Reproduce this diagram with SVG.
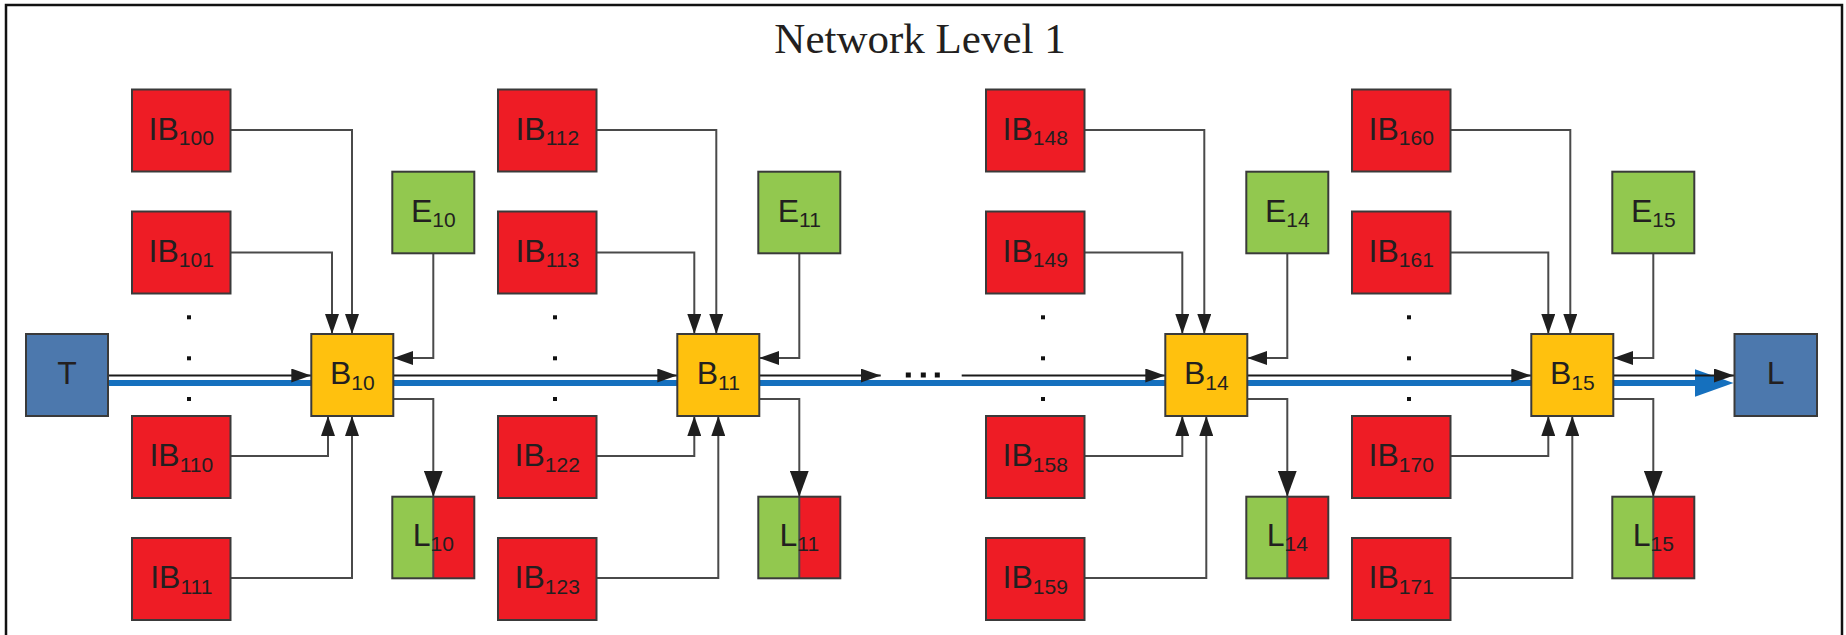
<svg xmlns="http://www.w3.org/2000/svg" width="1846" height="635" viewBox="0 0 1846 635">
<style>
.frame{fill:none;stroke:#111;stroke-width:2.5}
.box{stroke:#3a3a3a;stroke-width:2}
.red{fill:#EE1C25}
.yel{fill:#FFC10E}
.grn{fill:#92C84F}
.blu{fill:#4C78AD}
.lbl{font-family:"Liberation Sans",Arial,sans-serif;font-size:32px;fill:#231F20;text-anchor:middle}
.sub{font-size:21px}
.title{font-family:"Liberation Serif","Times New Roman",serif;font-size:43px;fill:#231F20;text-anchor:middle}
.conn{fill:none;stroke:#4a4a4a;stroke-width:2}
.main{fill:none;stroke:#1a1a1a;stroke-width:2}
.bline{fill:none;stroke:#1570BE;stroke-width:6}
.dot{fill:#111}
</style>
<defs>
<marker id="a" markerUnits="userSpaceOnUse" markerWidth="20" markerHeight="14" refX="20" refY="7" orient="auto"><path d="M0,0 L20,7 L0,14 Z" fill="#1f1f1f"/></marker>
<marker id="ab" markerUnits="userSpaceOnUse" markerWidth="26" markerHeight="19" refX="26" refY="9.5" orient="auto"><path d="M0,0 L26,9.5 L0,19 Z" fill="#1f1f1f"/></marker>
</defs>
<rect class="frame" x="6" y="5" width="1836" height="660"/>
<text class="title" x="920" y="53">Network Level 1</text>

<g id="connectors">
<path class="bline" d="M108,383 H1700"/>
<polygon points="1695,369.3 1733.5,383 1695,396.7" fill="#1570BE"/>
<path class="main" marker-end="url(#a)" d="M108,375.5 H311.3"/>
<path class="main" marker-end="url(#a)" d="M393.3,375.5 H677.3"/>
<path class="main" marker-end="url(#a)" d="M759.3,375.5 H880.7"/>
<path class="main" marker-end="url(#a)" d="M961.7,375.5 H1165.3"/>
<path class="main" marker-end="url(#a)" d="M1247.3,375.5 H1531.3"/>
<path class="main" marker-end="url(#a)" d="M1613.3,375.5 H1734"/>

<path class="conn" marker-end="url(#a)" d="M230.5,130 H352 V334"/>
<path class="conn" marker-end="url(#a)" d="M230.5,252.5 H332 V334"/>
<path class="conn" marker-end="url(#a)" d="M433.3,253.3 V358 H393.3"/>
<path class="conn" marker-end="url(#ab)" d="M393.3,399 H433.3 V496.7"/>
<path class="conn" marker-end="url(#a)" d="M230.5,456 H328 V416"/>
<path class="conn" marker-end="url(#a)" d="M230.5,578 H352 V416"/>

<path class="conn" marker-end="url(#a)" d="M596.5,130 H716.3 V334"/>
<path class="conn" marker-end="url(#a)" d="M596.5,252.5 H694.3 V334"/>
<path class="conn" marker-end="url(#a)" d="M799.3,253.3 V358 H759.3"/>
<path class="conn" marker-end="url(#ab)" d="M759.3,399 H799.3 V496.7"/>
<path class="conn" marker-end="url(#a)" d="M596.5,456 H694.3 V416"/>
<path class="conn" marker-end="url(#a)" d="M596.5,578 H718.3 V416"/>

<path class="conn" marker-end="url(#a)" d="M1084.5,130 H1204.3 V334"/>
<path class="conn" marker-end="url(#a)" d="M1084.5,252.5 H1182.3 V334"/>
<path class="conn" marker-end="url(#a)" d="M1287.3,253.3 V358 H1247.3"/>
<path class="conn" marker-end="url(#ab)" d="M1247.3,399 H1287.3 V496.7"/>
<path class="conn" marker-end="url(#a)" d="M1084.5,456 H1182.3 V416"/>
<path class="conn" marker-end="url(#a)" d="M1084.5,578 H1206.3 V416"/>

<path class="conn" marker-end="url(#a)" d="M1450.5,130 H1570.3 V334"/>
<path class="conn" marker-end="url(#a)" d="M1450.5,252.5 H1548.3 V334"/>
<path class="conn" marker-end="url(#a)" d="M1653.3,253.3 V358 H1613.3"/>
<path class="conn" marker-end="url(#ab)" d="M1613.3,399 H1653.3 V496.7"/>
<path class="conn" marker-end="url(#a)" d="M1450.5,456 H1548.3 V416"/>
<path class="conn" marker-end="url(#a)" d="M1450.5,578 H1572.3 V416"/>
</g>

<g id="dots">
<rect class="dot" x="187" y="315.3" width="4" height="4"/><rect class="dot" x="187" y="356.3" width="4" height="4"/><rect class="dot" x="187" y="397" width="4" height="4"/>
<rect class="dot" x="553" y="315.3" width="4" height="4"/><rect class="dot" x="553" y="356.3" width="4" height="4"/><rect class="dot" x="553" y="397" width="4" height="4"/>
<rect class="dot" x="1041" y="315.3" width="4" height="4"/><rect class="dot" x="1041" y="356.3" width="4" height="4"/><rect class="dot" x="1041" y="397" width="4" height="4"/>
<rect class="dot" x="1407" y="315.3" width="4" height="4"/><rect class="dot" x="1407" y="356.3" width="4" height="4"/><rect class="dot" x="1407" y="397" width="4" height="4"/>
<rect class="dot" x="905.8" y="372.5" width="5" height="5"/><rect class="dot" x="920.8" y="372.5" width="5" height="5"/><rect class="dot" x="934.8" y="372.5" width="5" height="5"/>
</g>

<g id="T"><rect class="box blu" x="26" y="334" width="82" height="82"/><text class="lbl" x="67" y="384">T</text></g>
<g id="L"><rect class="box blu" x="1734.5" y="334" width="82.5" height="82"/><text class="lbl" x="1775.7" y="384">L</text></g>

<g id="IB100"><rect class="box red" x="132" y="89.5" width="98.5" height="82"/><text class="lbl" x="181.25" y="139.5">IB<tspan class="sub" dy="5.5">100</tspan></text></g>
<g id="IB101"><rect class="box red" x="132" y="211.5" width="98.5" height="82"/><text class="lbl" x="181.25" y="261.5">IB<tspan class="sub" dy="5.5">101</tspan></text></g>
<g id="IB110"><rect class="box red" x="132" y="416" width="98.5" height="82"/><text class="lbl" x="181.25" y="466">IB<tspan class="sub" dy="5.5">110</tspan></text></g>
<g id="IB111"><rect class="box red" x="132" y="538" width="98.5" height="82"/><text class="lbl" x="181.25" y="588">IB<tspan class="sub" dy="5.5">111</tspan></text></g>
<g id="B10"><rect class="box yel" x="311.3" y="334" width="82" height="82"/><text class="lbl" x="352.3" y="384">B<tspan class="sub" dy="5.5">10</tspan></text></g>
<g id="E10"><rect class="box grn" x="392.3" y="171.7" width="82" height="81.6"/><text class="lbl" x="433.3" y="221.5">E<tspan class="sub" dy="5.5">10</tspan></text></g>
<g id="L10"><rect class="grn" x="392.3" y="496.7" width="41" height="81.6"/><rect class="red" x="433.3" y="496.7" width="41" height="81.6"/><path class="conn" d="M433.3,496.7 V578.3"/><rect class="box" fill="none" x="392.3" y="496.7" width="82" height="81.6"/><text class="lbl" x="433.3" y="545.5">L<tspan class="sub" dy="5.5">10</tspan></text></g>

<g id="IB112"><rect class="box red" x="498" y="89.5" width="98.5" height="82"/><text class="lbl" x="547.25" y="139.5">IB<tspan class="sub" dy="5.5">112</tspan></text></g>
<g id="IB113"><rect class="box red" x="498" y="211.5" width="98.5" height="82"/><text class="lbl" x="547.25" y="261.5">IB<tspan class="sub" dy="5.5">113</tspan></text></g>
<g id="IB122"><rect class="box red" x="498" y="416" width="98.5" height="82"/><text class="lbl" x="547.25" y="466">IB<tspan class="sub" dy="5.5">122</tspan></text></g>
<g id="IB123"><rect class="box red" x="498" y="538" width="98.5" height="82"/><text class="lbl" x="547.25" y="588">IB<tspan class="sub" dy="5.5">123</tspan></text></g>
<g id="B11"><rect class="box yel" x="677.3" y="334" width="82" height="82"/><text class="lbl" x="718.3" y="384">B<tspan class="sub" dy="5.5">11</tspan></text></g>
<g id="E11"><rect class="box grn" x="758.3" y="171.7" width="82" height="81.6"/><text class="lbl" x="799.3" y="221.5">E<tspan class="sub" dy="5.5">11</tspan></text></g>
<g id="L11"><rect class="grn" x="758.3" y="496.7" width="41" height="81.6"/><rect class="red" x="799.3" y="496.7" width="41" height="81.6"/><path class="conn" d="M799.3,496.7 V578.3"/><rect class="box" fill="none" x="758.3" y="496.7" width="82" height="81.6"/><text class="lbl" x="799.3" y="545.5">L<tspan class="sub" dy="5.5">11</tspan></text></g>

<g id="IB148"><rect class="box red" x="986" y="89.5" width="98.5" height="82"/><text class="lbl" x="1035.25" y="139.5">IB<tspan class="sub" dy="5.5">148</tspan></text></g>
<g id="IB149"><rect class="box red" x="986" y="211.5" width="98.5" height="82"/><text class="lbl" x="1035.25" y="261.5">IB<tspan class="sub" dy="5.5">149</tspan></text></g>
<g id="IB158"><rect class="box red" x="986" y="416" width="98.5" height="82"/><text class="lbl" x="1035.25" y="466">IB<tspan class="sub" dy="5.5">158</tspan></text></g>
<g id="IB159"><rect class="box red" x="986" y="538" width="98.5" height="82"/><text class="lbl" x="1035.25" y="588">IB<tspan class="sub" dy="5.5">159</tspan></text></g>
<g id="B14"><rect class="box yel" x="1165.3" y="334" width="82" height="82"/><text class="lbl" x="1206.3" y="384">B<tspan class="sub" dy="5.5">14</tspan></text></g>
<g id="E14"><rect class="box grn" x="1246.3" y="171.7" width="82" height="81.6"/><text class="lbl" x="1287.3" y="221.5">E<tspan class="sub" dy="5.5">14</tspan></text></g>
<g id="L14"><rect class="grn" x="1246.3" y="496.7" width="41" height="81.6"/><rect class="red" x="1287.3" y="496.7" width="41" height="81.6"/><path class="conn" d="M1287.3,496.7 V578.3"/><rect class="box" fill="none" x="1246.3" y="496.7" width="82" height="81.6"/><text class="lbl" x="1287.3" y="545.5">L<tspan class="sub" dy="5.5">14</tspan></text></g>

<g id="IB160"><rect class="box red" x="1352" y="89.5" width="98.5" height="82"/><text class="lbl" x="1401.25" y="139.5">IB<tspan class="sub" dy="5.5">160</tspan></text></g>
<g id="IB161"><rect class="box red" x="1352" y="211.5" width="98.5" height="82"/><text class="lbl" x="1401.25" y="261.5">IB<tspan class="sub" dy="5.5">161</tspan></text></g>
<g id="IB170"><rect class="box red" x="1352" y="416" width="98.5" height="82"/><text class="lbl" x="1401.25" y="466">IB<tspan class="sub" dy="5.5">170</tspan></text></g>
<g id="IB171"><rect class="box red" x="1352" y="538" width="98.5" height="82"/><text class="lbl" x="1401.25" y="588">IB<tspan class="sub" dy="5.5">171</tspan></text></g>
<g id="B15"><rect class="box yel" x="1531.3" y="334" width="82" height="82"/><text class="lbl" x="1572.3" y="384">B<tspan class="sub" dy="5.5">15</tspan></text></g>
<g id="E15"><rect class="box grn" x="1612.3" y="171.7" width="82" height="81.6"/><text class="lbl" x="1653.3" y="221.5">E<tspan class="sub" dy="5.5">15</tspan></text></g>
<g id="L15"><rect class="grn" x="1612.3" y="496.7" width="41" height="81.6"/><rect class="red" x="1653.3" y="496.7" width="41" height="81.6"/><path class="conn" d="M1653.3,496.7 V578.3"/><rect class="box" fill="none" x="1612.3" y="496.7" width="82" height="81.6"/><text class="lbl" x="1653.3" y="545.5">L<tspan class="sub" dy="5.5">15</tspan></text></g>
</svg>
